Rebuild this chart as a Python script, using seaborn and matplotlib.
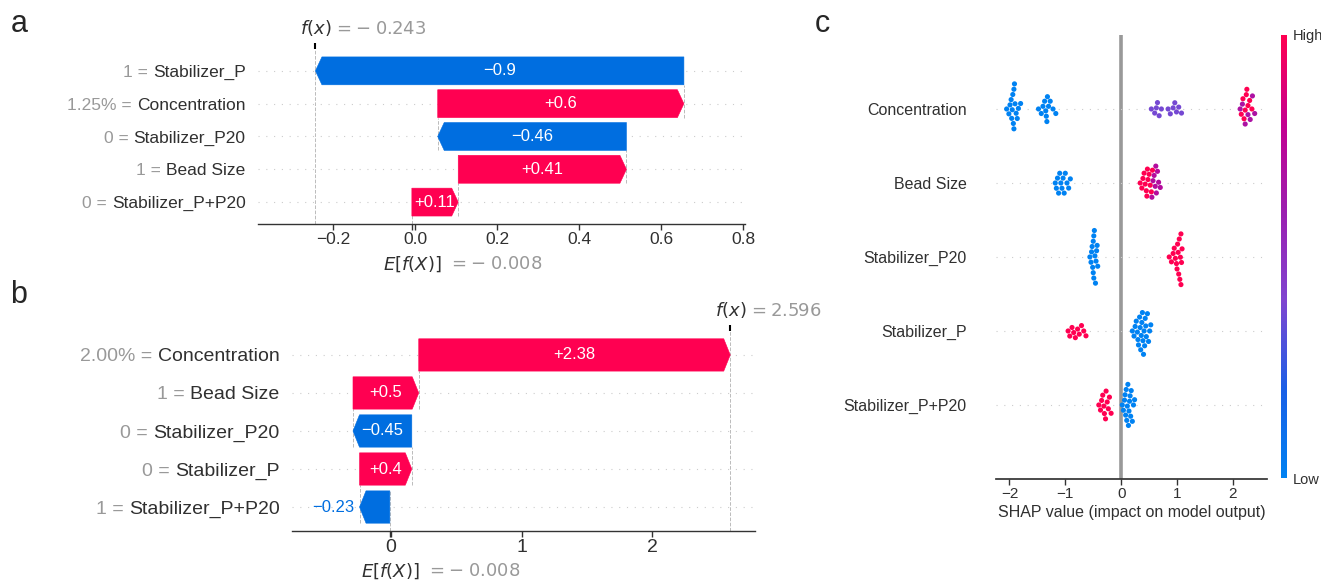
import numpy as np
import pandas as pd
import matplotlib
matplotlib.use('Agg')
import matplotlib.pyplot as plt
from matplotlib.patches import FancyArrow
from matplotlib.colors import LinearSegmentedColormap
import seaborn as sns
import warnings
warnings.filterwarnings('ignore')

# ---- data ----
base_value = -0.008

# panel a: waterfall for one sample (rows top -> bottom)
a_features = ['Stabilizer_P', 'Concentration', 'Stabilizer_P20', 'Bead Size', 'Stabilizer_P+P20']
a_values = ['1', '1.25%', '0', '1', '0']
a_shap = [-0.898, 0.6, -0.46, 0.41, 0.113]

# panel b: waterfall for another sample
b_features = ['Concentration', 'Bead Size', 'Stabilizer_P20', 'Stabilizer_P', 'Stabilizer_P+P20']
b_values = ['2.00%', '1', '0', '0', '1']
b_shap = [2.383, 0.503, -0.45, 0.4, -0.232]

# panel c: beeswarm summary, one list per colour group
c_features = ['Concentration', 'Bead Size', 'Stabilizer_P20', 'Stabilizer_P', 'Stabilizer_P+P20']
conc_low = [-2.05, -2.01, -1.99, -1.97, -1.96, -1.95, -1.94, -1.93, -1.92, -1.92, -1.91, -1.9,
            -1.88, -1.86, -1.84, -1.8,
            -1.48, -1.43, -1.4, -1.37, -1.35, -1.34, -1.33, -1.32, -1.3, -1.27, -1.22, -1.17]
conc_mid = [0.54, 0.6, 0.63, 0.65, 0.68, 0.72, 0.84, 0.88, 0.93, 0.96, 0.99, 1.03, 1.08]
conc_upper = [2.13, 2.17, 2.22, 2.27, 2.31, 2.35, 2.39]
conc_high = [2.15, 2.18, 2.2, 2.22, 2.24, 2.25, 2.27, 2.3, 2.34]
bead_low = [-1.18, -1.16, -1.14, -1.12, -1.1, -1.08, -1.06, -1.04, -1.02, -1.0, -0.97, -0.94, -0.91]
bead_high = [0.34, 0.37, 0.39, 0.41, 0.43, 0.45, 0.46, 0.47, 0.48, 0.5, 0.52, 0.54, 0.56]
bead_upper = [0.55, 0.57, 0.59, 0.61, 0.62, 0.63, 0.65, 0.67, 0.7]
p20_low = [-0.56, -0.54, -0.53, -0.52, -0.51, -0.5, -0.5, -0.49, -0.49, -0.48, -0.47, -0.46,
           -0.45, -0.44, -0.43, -0.42]
p20_high = [0.86, 0.9, 0.93, 0.95, 0.97, 0.99, 1.0, 1.01, 1.02, 1.03, 1.04, 1.05, 1.06,
            1.07, 1.07, 1.08, 1.09]
p_high = [-0.95, -0.92, -0.88, -0.85, -0.82, -0.78, -0.75, -0.71, -0.67, -0.63]
p_low = [0.2, 0.23, 0.25, 0.27, 0.29, 0.3, 0.31, 0.33, 0.34, 0.35, 0.36, 0.37, 0.38, 0.39,
         0.4, 0.41, 0.42, 0.43, 0.44, 0.45, 0.47, 0.49, 0.51, 0.53]
pp_high = [-0.4, -0.37, -0.35, -0.33, -0.31, -0.3, -0.28, -0.27, -0.25, -0.23, -0.21, -0.18]
pp_low = [0.02, 0.04, 0.06, 0.07, 0.08, 0.09, 0.1, 0.11, 0.12, 0.13, 0.14, 0.15, 0.16, 0.17,
          0.18, 0.2, 0.22, 0.24]

# (feature, feature value level 0..1, shap values)
swarm_groups = [
    ('Concentration', 0.0, conc_low), ('Concentration', 0.38, conc_mid),
    ('Concentration', 0.68, conc_upper), ('Concentration', 1.0, conc_high),
    ('Bead Size', 0.0, bead_low), ('Bead Size', 1.0, bead_high), ('Bead Size', 0.72, bead_upper),
    ('Stabilizer_P20', 0.0, p20_low), ('Stabilizer_P20', 1.0, p20_high),
    ('Stabilizer_P', 1.0, p_high), ('Stabilizer_P', 0.0, p_low),
    ('Stabilizer_P+P20', 1.0, pp_high), ('Stabilizer_P+P20', 0.0, pp_low),
]

RED = '#ff0051'
BLUE = '#006ee0'
GRAY = '#999999'
TXT = '#303030'
cmap = LinearSegmentedColormap.from_list(
    'red_blue', ['#0082f2', '#1a5fe6', '#7f45d0', '#9b1fb0', '#c40090', RED])

sns.set_theme(style='ticks')
plt.rcParams['font.family'] = ['Liberation Sans', 'DejaVu Sans']
plt.rcParams['mathtext.fontset'] = 'dejavusans'

W, H = 13.21, 5.81
fig = plt.figure(figsize=(W, H), dpi=100)


def fmt(v):
    return f'{v:+.2f}'.rstrip('0').rstrip('.').replace('-', '\u2212')


def mfmt(v):
    # mathtext value with a spaced minus sign
    s = f'{abs(v):.3f}'
    return f'$ = -\\;{s}$' if v < 0 else f'$ = {s}$'


def draw_waterfall(ax, names, feat_vals, shap_vals, xlim, xticks, pad_y, fs):
    n = len(names)
    rows = np.arange(n)
    shap_vals = np.array(shap_vals)
    ends = base_value + np.cumsum(shap_vals[::-1])[::-1]
    starts = ends - shap_vals
    fx = ends[0]
    bw = 0.85

    ax.set_xlim(xlim)
    ax.set_ylim(n - 1 + pad_y, -pad_y)
    px_w = ax.get_position().width * W * 100
    hl = 6.5 * (xlim[1] - xlim[0]) / px_w

    for i in rows:
        ax.axhline(i, color='#cccccc', lw=0.8, dashes=(1, 6), zorder=0)
    for i in range(1, n):
        ax.plot([ends[i], ends[i]], [i + bw / 2, i - 1 + bw / 2], color='#bbbbbb',
                lw=0.7, ls='--', zorder=0)
    ax.axvline(base_value, 0, 1 / n, color='#bbbbbb', lw=0.7, ls='--', zorder=0)
    ax.axvline(fx, 0, 1, color='#bbbbbb', lw=0.7, ls='--', zorder=0)

    for i, v in enumerate(shap_vals):
        col = RED if v > 0 else BLUE
        ax.add_patch(FancyArrow(starts[i], i, v, 0, width=bw, head_width=bw,
                                head_length=min(hl, abs(v) * 0.9), length_includes_head=True,
                                facecolor=col, edgecolor=col, lw=0.4, zorder=3))
        if abs(v) / (xlim[1] - xlim[0]) > 0.08:
            ax.text(starts[i] + v / 2, i, fmt(v), ha='center', va='center',
                    color='white', fontsize=12, zorder=4)
        else:
            ax.annotate(fmt(v), xy=(ends[i], i), xytext=(-4 if v < 0 else 4, 0),
                        textcoords='offset points', ha='right' if v < 0 else 'left',
                        va='center', color=col, fontsize=12)

    # y labels: black feature name with its gray value in front
    ax.set_yticks(rows)
    ax.set_yticklabels(names)
    ax.tick_params(axis='y', length=0, pad=9, labelsize=fs, labelcolor=TXT)
    for lab, v in zip(ax.get_yticklabels(), feat_vals):
        ax.annotate(f'{v} = ', xy=(0, 0), xycoords=lab, ha='right', va='bottom',
                    fontsize=fs, color=GRAY)
    ax.set_xticks(xticks)
    ax.tick_params(axis='x', length=4, width=1, color='#333333', labelsize=fs,
                   labelcolor=TXT, pad=2)
    for s in ['left', 'top', 'right']:
        ax.spines[s].set_visible(False)
    ax.spines['bottom'].set_color('#333333')
    ax.spines['bottom'].set_linewidth(1)

    # f(x) and E[f(X)] markers
    top = ax.secondary_xaxis('top')
    top.set_xticks([fx])
    top.set_xticklabels([''])
    top.tick_params(length=4, width=1.5, color='black')
    bot = ax.secondary_xaxis('bottom')
    bot.set_xticks([base_value])
    bot.set_xticklabels([''])
    bot.tick_params(length=4, width=1, color='#333333')
    for sec in (top, bot):
        for sp in sec.spines.values():
            sp.set_visible(False)

    blend = ('data', 'axes fraction')
    ax.annotate('$f(x)$', xy=(fx, 1), xycoords=blend, xytext=(0, 8),
                textcoords='offset points', ha='center', va='bottom', fontsize=13,
                color=TXT)
    ax.annotate(mfmt(fx), xy=(fx, 1), xycoords=blend, xytext=(13, 8),
                textcoords='offset points', ha='left', va='bottom', fontsize=13,
                color=GRAY)
    ax.annotate('$E[f(X)]$', xy=(base_value, 0), xycoords=blend, xytext=(0, -29),
                textcoords='offset points', ha='center', va='center', fontsize=13,
                color=TXT)
    ax.annotate(mfmt(base_value), xy=(base_value, 0), xycoords=blend,
                xytext=(26, -29), textcoords='offset points', ha='left', va='center',
                fontsize=13, color=GRAY)


ax_a = fig.add_axes([0.1953, 0.6145, 0.3687, 0.3012])
draw_waterfall(ax_a, a_features, a_values, a_shap, (-0.383, 0.804),
               [-0.2, 0.0, 0.2, 0.4, 0.6, 0.8], 0.667, 12.5)

ax_b = fig.add_axes([0.2210, 0.0861, 0.3505, 0.3442])
draw_waterfall(ax_b, b_features, b_values, b_shap, (-0.757, 2.785),
               [0, 1, 2], 0.63, 14)

# ---- panel c: beeswarm ----
records = []
for feat, lvl, vals in swarm_groups:
    for v in vals:
        records.append({'feature': feat, 'shap': v, 'level': lvl})
df = pd.DataFrame(records)
palette = {lvl: cmap(lvl) for lvl in df['level'].unique()}

ax_c = fig.add_axes([0.7540, 0.1756, 0.2051, 0.7642])
ax_c.axvline(0, color='#999999', lw=2.6, zorder=0)
for i in range(len(c_features)):
    ax_c.axhline(i, color='#cccccc', lw=0.8, dashes=(1, 6), zorder=0)
sns.swarmplot(data=df, x='shap', y='feature', hue='level', palette=palette,
              order=c_features, size=3.7, linewidth=0, legend=False, ax=ax_c,
              orient='h', zorder=3)
ax_c.set_xlim(-2.24, 2.61)
ax_c.set_ylim(5, -1)
ax_c.set_xticks([-2, -1, 0, 1, 2])
ax_c.set_ylabel('')
ax_c.set_xlabel('SHAP value (impact on model output)', fontsize=11.5, color=TXT, labelpad=3)
ax_c.tick_params(axis='y', length=0, pad=21, labelsize=11.5, labelcolor=TXT)
ax_c.tick_params(axis='x', length=4, width=1, color='#333333', labelsize=11,
                 labelcolor=TXT, pad=2)
for s in ['left', 'top', 'right']:
    ax_c.spines[s].set_visible(False)
ax_c.spines['bottom'].set_color('#333333')

cax = fig.add_axes([0.9697, 0.177, 0.0045, 0.763])
sm = plt.cm.ScalarMappable(cmap=cmap, norm=plt.Normalize(0, 1))
cb = fig.colorbar(sm, cax=cax, ticks=[0, 1])
cb.set_ticklabels(['Low', 'High'])
cb.outline.set_visible(False)
cax.tick_params(length=0, labelsize=10.5, pad=4, labelcolor=TXT)

# panel letters
fig.text(0.008, 0.945, 'a', fontsize=22, va='baseline')
fig.text(0.008, 0.478, 'b', fontsize=22, va='baseline')
fig.text(0.617, 0.945, 'c', fontsize=22, va='baseline')

fig.savefig('out.png', dpi=100)
